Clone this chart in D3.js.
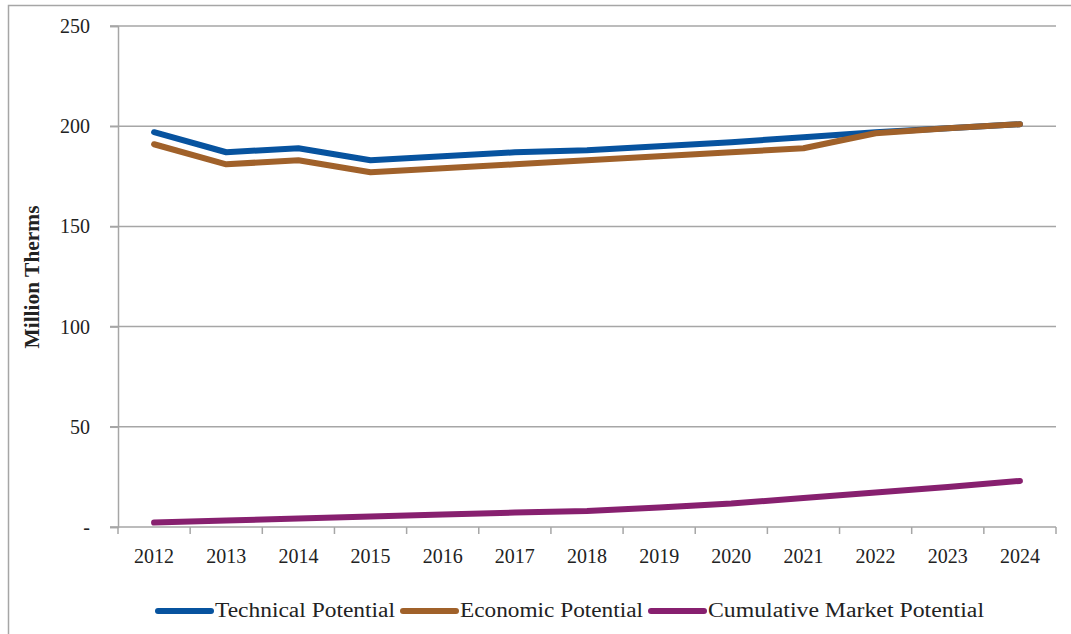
<!DOCTYPE html>
<html><head><meta charset="utf-8">
<script src="https://cdn.jsdelivr.net/npm/d3@7"></script>
<style>body{margin:0;background:#fff}svg{display:block}text{font-family:"Liberation Serif","DejaVu Serif",serif;fill:#222}</style>
</head><body><svg id="c" width="1071" height="634"></svg>
<script>
const years = ["2012","2013","2014","2015","2016","2017","2018","2019","2020","2021","2022","2023","2024"];
const technical = [197,187,189,183,185,187,188,190,192,194.5,197,199,201];
const economic = [191,181,183,177,179,181,183,185,187,189,196.5,199,201];
const market = [2.2,3.2,4.2,5.2,6.2,7.2,8,9.7,11.7,14.5,17.2,20,23];
const yTicks = [0,50,100,150,200,250];
const yTickLabels = ["-","50","100","150","200","250"];
const seriesNames = ["Technical Potential","Economic Potential","Cumulative Market Potential"];
const seriesColors = ["#07539f","#a0612a","#87206f"];

const svg = d3.select("#c");
const L = 118, R = 1056, T = 26, B = 527;
svg.append("rect").attr("x",8.5).attr("y",5.5).attr("width",1100).attr("height",700)
  .attr("fill","none").attr("stroke","#a6a6a6").attr("stroke-width",1.5);

const x = d3.scaleBand().domain(years).range([L,R]);
const y = d3.scaleLinear().domain([0,250]).range([B,T]);

// gridlines
svg.append("g").selectAll("line").data(yTicks.slice(1)).join("line")
  .attr("x1",110).attr("x2",R).attr("y1",d=>y(d)).attr("y2",d=>y(d))
  .attr("stroke","#a6a6a6").attr("stroke-width",1.5);

// y axis
const ya = svg.append("g").attr("transform",`translate(${L},0)`)
  .call(d3.axisLeft(y).tickValues(yTicks).tickFormat((d,i)=>yTickLabels[i]).tickSize(8).tickPadding(20));
ya.select(".domain").attr("stroke","#a6a6a6").attr("stroke-width",1.5);
ya.selectAll(".tick line").attr("stroke","#a6a6a6").attr("stroke-width",1.5);
ya.selectAll(".tick text").style("font-size","20px").style("font-family","Liberation Serif").attr("fill","#222");

// x axis
const xa = svg.append("g").attr("transform",`translate(0,${B})`);
xa.append("line").attr("x1",L-8).attr("x2",R).attr("y1",0).attr("y2",0).attr("stroke","#a6a6a6").attr("stroke-width",1.5);
const bounds = years.map(d=>x(d)).concat([R]);
xa.selectAll("line.t").data(bounds).join("line").attr("class","t")
  .attr("x1",d=>d).attr("x2",d=>d).attr("y1",0).attr("y2",7).attr("stroke","#a6a6a6").attr("stroke-width",1.5);
xa.selectAll("text").data(years).join("text")
  .attr("x",d=>x(d)+x.bandwidth()/2).attr("y",36).attr("text-anchor","middle")
  .style("font-size","20px").text(d=>d);

// y title
svg.append("text").attr("transform","translate(39,277) rotate(-90)").attr("text-anchor","middle")
  .attr("textLength",143).attr("lengthAdjust","spacingAndGlyphs")
  .style("font-size","20px").style("font-weight","bold").text("Million Therms");

// lines
const line = d3.line().x((d,i)=>x(years[i])+x.bandwidth()/2).y(d=>y(d));
[technical,economic,market].forEach((s,i)=>{
  svg.append("path").datum(s).attr("d",line).attr("fill","none")
    .attr("stroke",seriesColors[i]).attr("stroke-width",6).attr("stroke-linecap","round").attr("stroke-linejoin","round");
});

// legend
const lx = [158,403,651];
const tl = [180,183,276];
const lg = svg.append("g");
seriesNames.forEach((n,i)=>{
  lg.append("line").attr("x1",lx[i]).attr("x2",lx[i]+53).attr("y1",611).attr("y2",611)
    .attr("stroke",seriesColors[i]).attr("stroke-width",6).attr("stroke-linecap","round");
  lg.append("text").attr("x",lx[i]+57).attr("y",617).attr("textLength",tl[i]).attr("lengthAdjust","spacingAndGlyphs")
    .style("font-size","20px").text(n);
});
</script></body></html>
